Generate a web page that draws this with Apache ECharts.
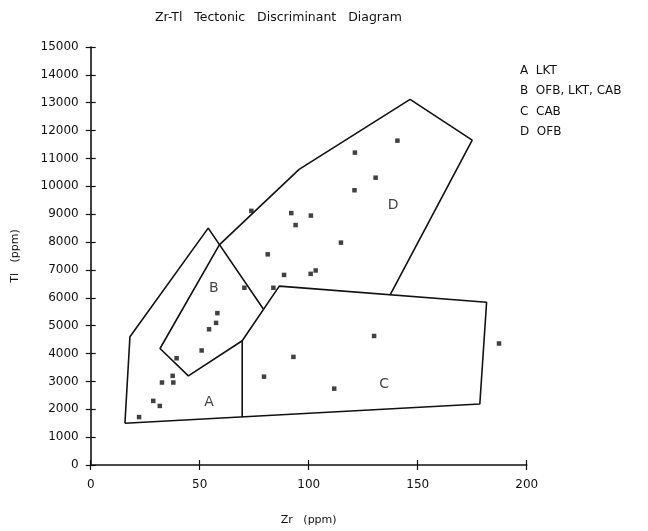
<!DOCTYPE html>
<html>
<head>
<meta charset="utf-8">
<script src="https://cdn.jsdelivr.net/npm/echarts@6/dist/echarts.min.js"></script>
<style>
  html, body { margin: 0; padding: 0; background: #fff; }
  #main { width: 648px; height: 531px; }
</style>
</head>
<body>
<div id="main"></div>
<script>
// sample points, Zr vs Ti (ppm)
var zrValues = [22.2, 28.7, 31.7, 32.7, 37.6, 37.9, 39.4, 50.9, 54.3, 57.5, 58.1, 70.5, 83.8, 79.5, 93, 130, 187.3, 111.7, 88.7, 100.9, 103.2, 140.7, 121.2, 130.7, 121, 73.7, 92, 101, 94, 114.8, 81.2];
var tiValues = [1720, 2300, 2120, 2960, 3200, 2960, 3830, 4110, 4870, 5100, 5450, 6360, 6360, 3170, 3880, 4630, 4360, 2740, 6820, 6860, 6980, 11640, 11210, 10310, 9860, 9120, 9040, 8950, 8610, 7980, 7560];

// field boundaries, each a list of [Zr, Ti]
var lineOuter = [[15.7, 1500], [18, 4600], [53.9, 8500], [79.2, 5600]];
var lineC = [[69.5, 4460], [86.5, 6420], [181.6, 5840], [178.5, 2190], [15.7, 1500]];
var lineDivider = [[69.5, 4460], [69.5, 1720]];
var lineD = [[59, 7900], [95.6, 10610], [146.5, 13120], [175, 11660], [137.3, 6100]];
var lineB = [[69.5, 4460], [44.8, 3200], [31.8, 4180], [59, 7900]];

// field letters
var fieldNames = ['A', 'B', 'C', 'D'];
var fieldPos = [[54.3, 2240], [56.5, 6340], [134.6, 2890], [138.7, 9300]];

var legendLines = ['A  LKT', 'B  OFB, LKT, CAB', 'C  CAB', 'D  OFB'];

var chart = echarts.init(document.getElementById('main'));
var font = 'DejaVu Sans';

var points = zrValues.map(function (z, i) { return [z, tiValues[i]]; });
var labels = fieldNames.map(function (n, i) { return { value: fieldPos[i], name: n }; });

function boundary(data) {
  return {
    type: 'line',
    data: data,
    symbol: 'none',
    silent: true,
    lineStyle: { color: '#111', width: 1.6 },
    z: 2
  };
}

var axisLine = { lineStyle: { color: '#111', width: 1.6 } };
var plain = function (v) { return String(v); };

var options = {
  animation: false,
  backgroundColor: '#fff',
  title: {
    text: 'Zr-Tl   Tectonic   Discriminant   Diagram',
    left: 150,
    top: 6,
    textStyle: { fontFamily: font, fontSize: 12.5, fontWeight: 'normal', color: '#111' }
  },
  graphic: legendLines.map(function (t, i) {
    return {
      type: 'text',
      left: 520,
      top: 65 + i * 20.3,
      style: { text: t, fontFamily: font, fontSize: 12, fill: '#111' }
    };
  }),
  grid: { left: 90.7, right: 121.3, top: 47, bottom: 63 },
  xAxis: [
    {
      type: 'value', min: 0, max: 200, interval: 50,
      name: 'Zr   (ppm)', nameLocation: 'middle', nameGap: 50,
      nameTextStyle: { fontFamily: font, fontSize: 11, color: '#111' },
      axisLine: axisLine,
      axisTick: { length: 5, lineStyle: { color: '#111', width: 1.2 } },
      axisLabel: { margin: 14, fontFamily: font, fontSize: 12, color: '#111', formatter: plain },
      splitLine: { show: false }
    },
    {
      type: 'value', min: 0, max: 200, interval: 50, position: 'bottom',
      axisLine: { show: false },
      axisTick: { inside: true, length: 5, lineStyle: { color: '#111', width: 1.2 } },
      axisLabel: { show: false },
      splitLine: { show: false }
    }
  ],
  yAxis: [
    {
      type: 'value', min: 0, max: 15000, interval: 1000,
      name: 'Tl   (ppm)', nameLocation: 'middle', nameGap: 70,
      nameTextStyle: { fontFamily: font, fontSize: 11, color: '#111' },
      axisLine: axisLine,
      axisTick: { length: 5, lineStyle: { color: '#111', width: 1.2 } },
      axisLabel: { margin: 12, fontFamily: font, fontSize: 12, color: '#111', formatter: plain },
      splitLine: { show: false }
    },
    {
      type: 'value', min: 0, max: 15000, interval: 1000, position: 'left',
      axisLine: { show: false },
      axisTick: { inside: true, length: 5, lineStyle: { color: '#111', width: 1.2 } },
      axisLabel: { show: false },
      splitLine: { show: false }
    }
  ],
  series: [
    boundary(lineOuter),
    boundary(lineC),
    boundary(lineDivider),
    boundary(lineD),
    boundary(lineB),
    {
      type: 'scatter',
      data: points,
      symbol: 'rect',
      symbolSize: 4.5,
      itemStyle: { color: '#111' },
      z: 3
    },
    {
      type: 'scatter',
      data: labels,
      symbolSize: 0,
      silent: true,
      label: {
        show: true,
        position: 'inside',
        formatter: '{b}',
        fontFamily: font,
        fontSize: 14,
        color: '#111'
      }
    }
  ]
};
chart.setOption(options);
window.addEventListener('resize', function () { chart.resize(); });
</script>
</body>
</html>
